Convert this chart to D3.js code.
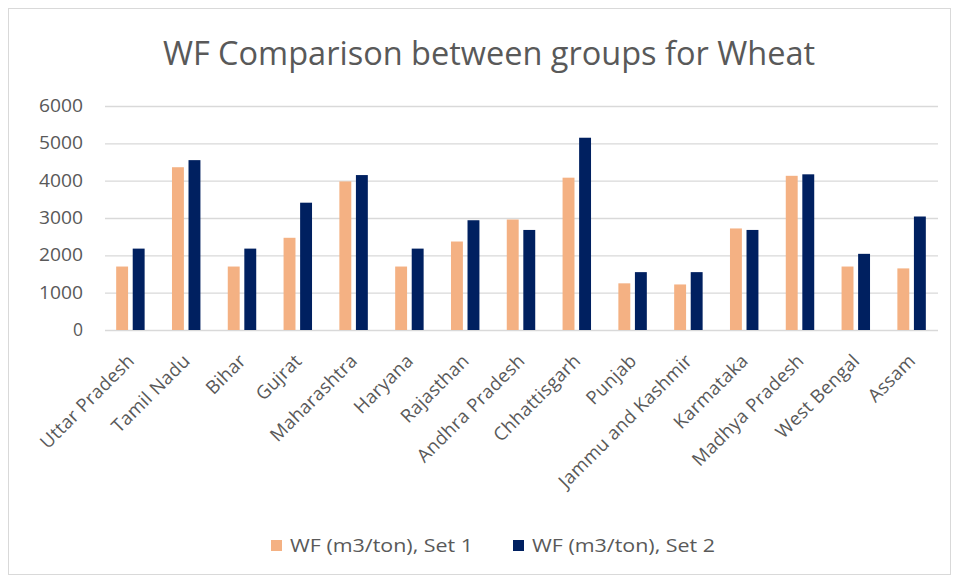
<!DOCTYPE html>
<html>
<head>
<meta charset="utf-8">
<script src="https://cdn.jsdelivr.net/npm/d3@7"></script>
<style>
  html, body { margin: 0; padding: 0; background: #fff; }
  svg { display: block; font-family: "Open Sans", "Liberation Sans", sans-serif; }
</style>
</head>
<body>
<svg id="chart" width="959" height="581"></svg>
<script>
const states = ["Uttar Pradesh", "Tamil Nadu", "Bihar", "Gujrat", "Maharashtra", "Haryana",
  "Rajasthan", "Andhra Pradesh", "Chhattisgarh", "Punjab", "Jammu and Kashmir",
  "Karmataka", "Madhya Pradesh", "West Bengal", "Assam"];
const set1 = [1700, 4360, 1700, 2470, 3980, 1700, 2370, 2960, 4080, 1250, 1220, 2720, 4130, 1700, 1650];
const set2 = [2180, 4550, 2180, 3410, 4150, 2180, 2940, 2680, 5150, 1550, 1550, 2680, 4170, 2040, 3040];
const seriesNames = ["WF (m3/ton), Set 1", "WF (m3/ton), Set 2"];
const seriesColors = ["#F4B183", "#002060"];
const yTicks = [0, 1000, 2000, 3000, 4000, 5000, 6000];

const svg = d3.select("#chart");
const W = 959, H = 581;
const plot = { left: 105, right: 938, top: 106, bottom: 330 };
const FONT = "'Open Sans', 'Liberation Sans', sans-serif";
const TEXT = "#595959";

// chart frame
svg.append("rect").attr("x", 8.5).attr("y", 8.5).attr("width", W - 17).attr("height", H - 15)
  .attr("fill", "#fff").attr("stroke", "#d9d9d9");

svg.append("text").attr("x", 489).attr("y", 65).attr("text-anchor", "middle")
  .attr("font-size", 32.5).attr("fill", TEXT).text("WF Comparison between groups for Wheat");

const x = d3.scaleBand().domain(states).range([102.5, 939.5]).paddingInner(0.49).paddingOuter(0.245);
const sub = d3.scaleBand().domain([0, 1]).range([0, x.bandwidth()]).paddingInner(0.28);
const y = d3.scaleLinear().domain([0, 6000]).range([plot.bottom, plot.top]);

// gridlines + y labels
const yAxis = d3.axisLeft(y).tickValues(yTicks).tickFormat(d3.format("d"))
  .tickSize(-(plot.right - plot.left)).tickPadding(22);
const ga = svg.append("g").attr("transform", `translate(${plot.left},0)`).call(yAxis);
ga.select(".domain").remove();
ga.selectAll(".tick line").attr("stroke", "#d9d9d9").attr("stroke-width", 1.3);
ga.selectAll(".tick text").attr("fill", TEXT).attr("font-size", 17.5)
  .attr("font-family", FONT).attr("textLength", 44).attr("lengthAdjust", "spacingAndGlyphs");
ga.select(".tick text").attr("textLength", null);

// bars
const series = [set1, set2];
series.forEach((vals, si) => {
  svg.append("g").selectAll("rect").data(states).join("rect")
    .attr("x", d => x(d) + sub(si))
    .attr("width", sub.bandwidth())
    .attr("y", (d, i) => y(vals[i]))
    .attr("height", (d, i) => y(0) - y(vals[i]))
    .attr("fill", seriesColors[si]);
});

// x axis labels, rotated so each ends just under its group
const xa = svg.append("g").attr("transform", `translate(0,${plot.bottom})`)
  .call(d3.axisBottom(x).tickSize(0).tickPadding(0));
xa.select(".domain").remove();
xa.selectAll(".tick text")
  .attr("fill", TEXT).attr("font-size", 18.5).attr("font-family", FONT)
  .attr("letter-spacing", 0.3)
  .attr("text-anchor", "end")
  .attr("dy", 0)
  .attr("transform", "translate(5,32) rotate(-45)");

// legend
const legend = svg.append("g");
const lx = [271, 513];
seriesNames.forEach((n, i) => {
  legend.append("rect").attr("x", lx[i]).attr("y", 540).attr("width", 11).attr("height", 11)
    .attr("fill", seriesColors[i]);
  legend.append("text").attr("x", lx[i] + 19).attr("y", 552).attr("font-size", 18)
    .attr("fill", TEXT).attr("textLength", 183).attr("lengthAdjust", "spacingAndGlyphs").text(n);
});
</script>
</body>
</html>
